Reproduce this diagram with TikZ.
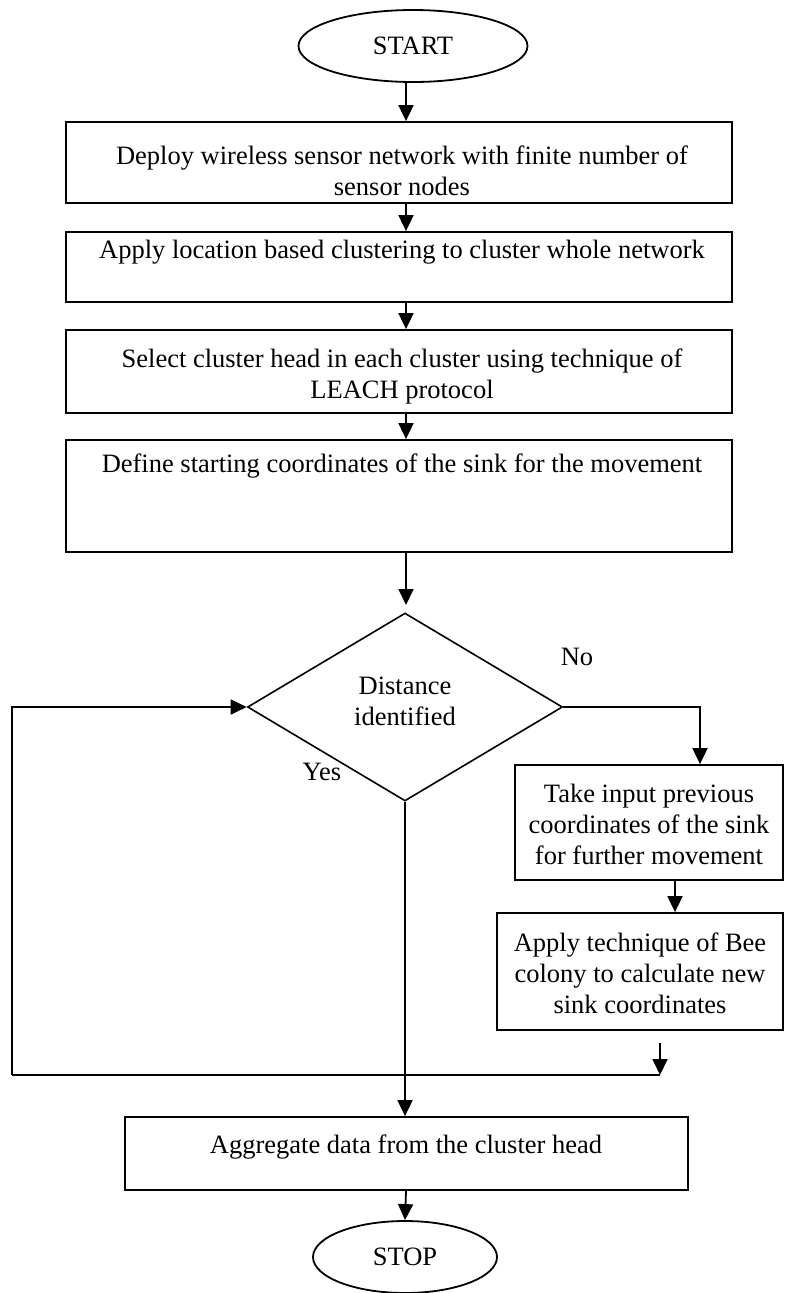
\documentclass[tikz,border=0pt]{standalone}
\usepackage{fontspec}
\setmainfont{Liberation Serif}
\usetikzlibrary{shapes.geometric,arrows.meta}

\tikzset{
  base/.style={font=\fontsize{26.5}{31}\selectfont},
  box/.style={draw, line width=1.8pt, rectangle, inner sep=0pt},
  term/.style={draw, line width=1.8pt, ellipse, inner sep=0pt, base},
  cond/.style={draw, line width=1.6pt, diamond, inner sep=0pt},
  txt/.style={base, align=center, inner sep=0pt},
  arr/.style={line width=1.8pt, -{Triangle[length=16pt,width=15pt]}},
  wire/.style={line width=1.8pt},
}

\begin{document}
\begin{tikzpicture}[x=1pt, y=-1pt]
\useasboundingbox (0,0) rectangle (805,1293);

% terminals
\node[term, minimum width=229pt, minimum height=72pt] (start) at (413,46) {START};
\node[term, minimum width=184pt, minimum height=72pt] (stop) at (405,1257) {STOP};

% main column of process boxes
\node[box, minimum width=666pt, minimum height=81pt]  (b1) at (399,162.5) {};
\node[box, minimum width=666pt, minimum height=70pt]  (b2) at (399,267) {};
\node[box, minimum width=666pt, minimum height=83pt]  (b3) at (399,371.5) {};
\node[box, minimum width=666pt, minimum height=112pt] (b4) at (399,496) {};

\node[txt] (t1) at (402,171) {Deploy wireless sensor network with finite number of\\sensor nodes};
\node[txt] (t2) at (402,252) {Apply location based clustering to cluster whole network};
\node[txt] (t3) at (402,376) {Select cluster head in each cluster using technique of\\LEACH protocol};
\node[txt] (t4) at (402,466) {Define starting coordinates of the sink for the movement};

% decision
\node[cond, minimum width=315pt, minimum height=188pt] (dia) at (405,707) {};
\node[txt] (td) at (405,701) {Distance\\identified};
\node[txt] (no) at (577,657) {No};
\node[txt] (yes) at (322,772) {Yes};

% right-hand branch
\node[box, minimum width=268pt, minimum height=115pt] (b5) at (649,822.5) {};
\node[box, minimum width=286pt, minimum height=117pt] (b6) at (640,971.5) {};
\node[txt] (t5) at (649,824) {Take input previous\\coordinates of the sink\\for further movement};
\node[txt] (t6) at (640,973) {Apply technique of Bee\\colony to calculate new\\sink coordinates};

% final process box
\node[box, minimum width=563pt, minimum height=73pt] (b7) at (406.5,1153.5) {};
\node[txt] (t7) at (406,1147) {Aggregate data from the cluster head};

% reference points for connector columns
\coordinate (ax) at (406,0);
\coordinate (nx) at (700,0);
\coordinate (mx) at (675,0);
\coordinate (dtop) at (406,605);
\coordinate (lp1) at (660,1043);
\coordinate (lp2) at (660,1075);
\coordinate (lc) at (12,1075);

% connectors
\draw[arr] (start.south -| ax) -- (b1.north -| ax);
\draw[arr] (b1.south -| ax) -- (b2.north -| ax);
\draw[arr] (b2.south -| ax) -- (b3.north -| ax);
\draw[arr] (b3.south -| ax) -- (b4.north -| ax);
\draw[arr] (b4.south -| ax) -- (dtop);
\draw[arr] (dia.east) -| (b5.north -| nx);
\draw[arr] (b5.south -| mx) -- (b6.north -| mx);
\draw[arr] (lp1) -- (lp2);
\draw[wire] (lp2) -- (lc);
\draw[arr] (lc) |- (dia.west);
\draw[arr] (dia.south) -- (b7.north -| dia.south);
\draw[arr] (b7.south -| ax) -- (stop.north);
\end{tikzpicture}
\end{document}
